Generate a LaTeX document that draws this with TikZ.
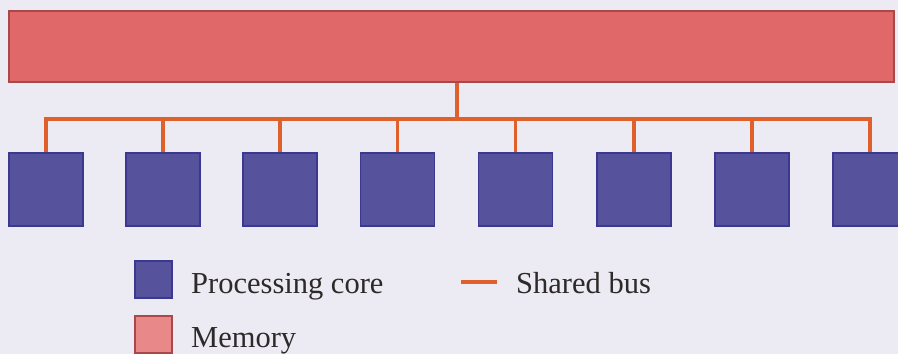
\documentclass[tikz,border=0pt]{standalone}
\usepackage{fontspec}
\setmainfont{Liberation Serif}
\definecolor{bg}{HTML}{ECEBF3}
\definecolor{memfill}{HTML}{E06868}
\definecolor{memdraw}{HTML}{A84848}
\definecolor{corefill}{HTML}{57529C}
\definecolor{coredraw}{HTML}{3A3890}
\definecolor{busc}{HTML}{E0602C}
\definecolor{txt}{HTML}{2E2A2A}
\definecolor{memleg}{HTML}{E88888}
\tikzset{
  membox/.style={rectangle, draw=memdraw, fill=memfill, line width=1.2pt, minimum width=885pt, minimum height=71pt, inner sep=0pt},
  corebox/.style={rectangle, draw=coredraw, fill=corefill, line width=1.2pt, minimum width=74pt, minimum height=73pt, inner sep=0pt},
  busline/.style={draw=busc, line width=3.2pt},
  legtext/.style={anchor=base west, text=txt, font=\fontsize{30.5}{33}\selectfont, inner sep=0pt}
}
\begin{document}
\begin{tikzpicture}[x=1pt,y=1pt]
\useasboundingbox (0,0) rectangle (898,354);
\clip (0,0) rectangle (898,354);
\fill[bg] (0,0) rectangle (898,354);
\coordinate (busmid) at (457,235);
\coordinate (busl) at (45,235);
\coordinate (busr) at (870,235);
\node[membox] (mem) at (451.5,307.5) {};
\foreach \i/\x in {1/46,2/163,3/280,4/397.5,5/515.5,6/634,7/752,8/870}{
  \node[corebox] (c\i) at (\x,164.5) {};
}
\draw[busline, line cap=butt] (c1.north) -- (c1.north |- busl) -- (c8.north |- busr) -- (c8.north);
\foreach \i in {2,...,7}{
  \draw[busline] (c\i.north) -- (c\i.north |- busl);
}
\draw[busline] (mem.south -| busmid) -- (busmid);
% legend
\node[rectangle, draw=coredraw, fill=corefill, line width=1.2pt, minimum width=37pt, minimum height=37pt, inner sep=0pt] (lcore) at (153.5,74.5) {};
\node[legtext] (tcore) at (191,61) {Processing core};
\node[rectangle, draw=memdraw, fill=memleg, line width=1.2pt, minimum width=37pt, minimum height=37pt, inner sep=0pt] (lmem) at (153.5,19.5) {};
\node[legtext] (tmem) at (191,7) {Memory};
\coordinate (lbusa) at (461,72);
\coordinate (lbusb) at (497,72);
\draw[busline] (lbusa) -- (lbusb);
\node[legtext] (tbus) at (516,60) {Shared bus};
\end{tikzpicture}
\end{document}
